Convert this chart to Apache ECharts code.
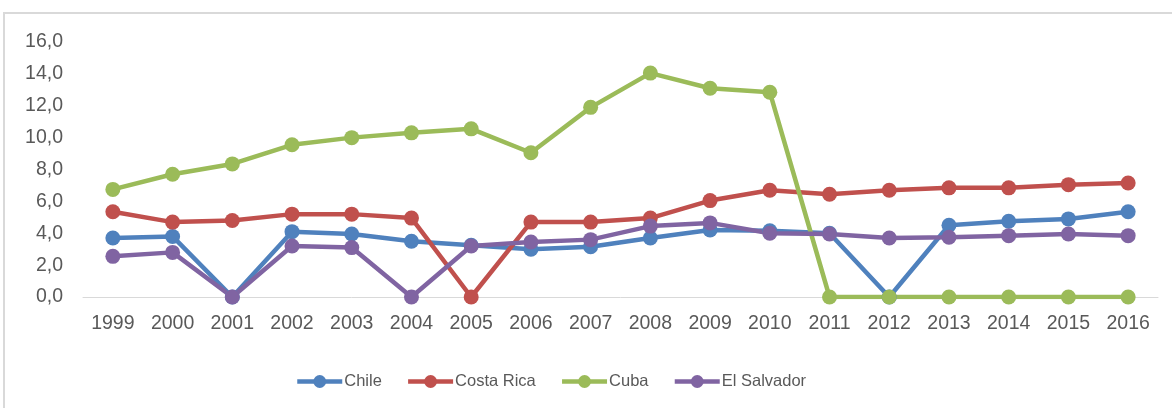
<!DOCTYPE html>
<html>
<head>
<meta charset="utf-8">
<script src="https://cdn.jsdelivr.net/npm/echarts@6/dist/echarts.min.js"></script>
<style>
html,body{margin:0;padding:0;background:#fff;}
#frame{position:absolute;left:3px;top:12px;width:1200px;height:420px;border-left:2px solid #d9d9d9;border-top:2px solid #d9d9d9;box-sizing:border-box;}
#chart{position:absolute;left:0;top:0;width:1172px;height:408px;}
</style>
</head>
<body>
<div id="frame"></div>
<div id="chart"></div>
<script>
const years = ['1999','2000','2001','2002','2003','2004','2005','2006','2007','2008','2009','2010','2011','2012','2013','2014','2015','2016'];
const chile = [3.7,3.8,0,4.1,3.95,3.5,3.25,3.0,3.15,3.7,4.2,4.15,4.0,0,4.5,4.75,4.9,5.35];
const costaRica = [5.35,4.7,4.8,5.2,5.2,4.95,0,4.7,4.7,4.95,6.05,6.7,6.45,6.7,6.85,6.85,7.05,7.15];
const cuba = [6.75,7.7,8.35,9.55,10.0,10.3,10.55,9.05,11.9,14.05,13.1,12.85,0,0,0,0,0,0];
const elSalvador = [2.55,2.8,0,3.2,3.1,0,3.2,3.45,3.6,4.45,4.65,4.0,3.95,3.7,3.75,3.85,3.95,3.85];
const yTicks = {min:0, max:16, interval:2};

const font = '"Liberation Sans Narrow","Arial Narrow","Liberation Sans",sans-serif';
const chart = echarts.init(document.getElementById('chart'));
function s(name, data, color){
  return {name:name, type:'line', data:data, symbol:'circle', symbolSize:15,
    lineStyle:{width:4.5,color:color}, itemStyle:{color:color}, emphasis:{disabled:true}};
}
chart.setOption({
  animation:false,
  grid:{left:83,right:14,top:42,bottom:111},
  xAxis:{type:'category',data:years,boundaryGap:true,
    axisLine:{lineStyle:{color:'#d9d9d9',width:1}},axisTick:{show:false},
    axisLabel:{color:'#595959',fontFamily:font,fontSize:19.5,margin:17,interval:0}},
  yAxis:{type:'value',min:yTicks.min,max:yTicks.max,interval:yTicks.interval,
    splitLine:{show:false},axisLine:{show:false},axisTick:{show:false},
    axisLabel:{color:'#595959',fontFamily:font,fontSize:19.5,margin:20,
      formatter:v=>v.toFixed(1).replace('.',',')}},
  legend:{left:290,top:368,itemWidth:45,itemHeight:16,itemGap:24,
    textStyle:{color:'#595959',fontFamily:font,fontSize:16.5,padding:[0,0,0,-3]},
    lineStyle:{width:4.5},
    data:['Chile','Costa Rica','Cuba','El Salvador']},
  series:[s('Chile',chile,'#4F81BD'),s('Costa Rica',costaRica,'#C0504D'),s('Cuba',cuba,'#9BBB59'),s('El Salvador',elSalvador,'#8064A2')]
});
</script>
</body>
</html>
